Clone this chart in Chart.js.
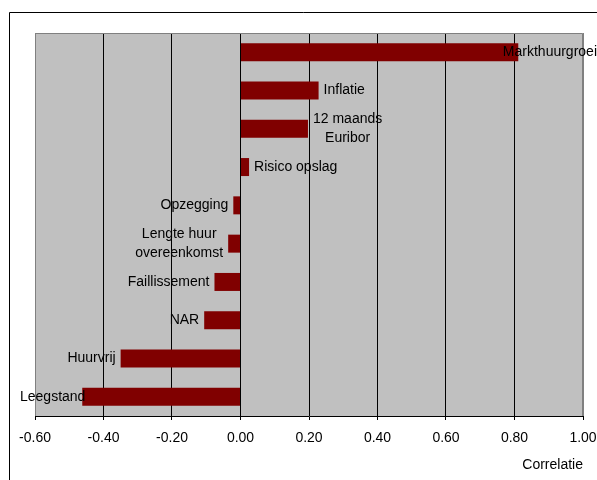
<!DOCTYPE html>
<html>
<head>
<meta charset="utf-8">
<script src="https://cdn.jsdelivr.net/npm/chart.js@4"></script>
<style>
  html, body { margin: 0; padding: 0; background: #ffffff; }
  #wrap { width: 597px; height: 480px; position: relative; }
</style>
</head>
<body>
<div id="wrap"><canvas id="c" width="597" height="480"></canvas></div>
<script>
// Correlation of each factor with the outcome
const categories = [
  'Markthuurgroei',
  'Inflatie',
  ['12 maands', 'Euribor'],
  'Risico opslag',
  'Opzegging',
  ['Lengte huur', 'overeenkomst'],
  'Faillissement',
  'NAR',
  'Huurvrij',
  'Leegstand'
];
const correlations = [0.811, 0.228, 0.197, 0.025, -0.021, -0.036, -0.076, -0.106, -0.35, -0.462];
const axisMin = -0.6;
const axisMax = 1.0;
const axisStep = 0.2;
const axisTitle = 'Correlatie';

const FONT = "'Liberation Sans', Arial, sans-serif";

// Grey plot area, outer frame and the plot's top border
const backdrop = {
  id: 'backdrop',
  beforeDraw(chart) {
    const { ctx, chartArea: a } = chart;
    ctx.save();
    ctx.fillStyle = '#ffffff';
    ctx.fillRect(0, 0, chart.width, chart.height);
    ctx.fillStyle = '#c0c0c0';
    ctx.fillRect(a.left, a.top, a.right - a.left, a.bottom - a.top);
    ctx.strokeStyle = '#000000';
    ctx.lineWidth = 1;
    ctx.beginPath();
    ctx.moveTo(9.5, chart.height + 5);
    ctx.lineTo(9.5, 12.5);
    ctx.lineTo(chart.width + 5, 12.5);
    ctx.stroke();
    ctx.restore();
  },
  beforeDatasetsDraw(chart) {
    const { ctx, chartArea: a } = chart;
    ctx.save();
    ctx.strokeStyle = '#808080';
    ctx.lineWidth = 1;
    ctx.beginPath();
    ctx.moveTo(Math.round(a.left) + 0.5, Math.round(a.bottom));
    ctx.lineTo(Math.round(a.left) + 0.5, Math.round(a.top) + 0.5);
    ctx.lineTo(Math.round(a.right) - 0.5, Math.round(a.top) + 0.5);
    ctx.lineTo(Math.round(a.right) - 0.5, Math.round(a.bottom));
    ctx.stroke();
    ctx.restore();
  }
};

// Category names written beside the end of each bar
const barNames = {
  id: 'barNames',
  afterDatasetsDraw(chart) {
    const { ctx } = chart;
    const meta = chart.getDatasetMeta(0);
    const gap = 5;
    const lineH = 19;
    ctx.save();
    ctx.font = '14px ' + FONT;
    ctx.fillStyle = '#000000';
    ctx.textBaseline = 'middle';
    meta.data.forEach((bar, i) => {
      const lines = [].concat(categories[i]);
      const w = Math.max(...lines.map(s => ctx.measureText(s).width));
      const v = correlations[i];
      let left;
      if (v >= 0) {
        left = Math.min(bar.x + gap, chart.width - w);
      } else {
        left = Math.max(bar.x - gap - w, 20);
      }
      const cx = left + w / 2;
      ctx.textAlign = 'center';
      const y0 = bar.y - (lines.length - 1) * lineH / 2;
      lines.forEach((s, k) => ctx.fillText(s, cx, y0 + k * lineH));
    });
    ctx.restore();
  }
};

const edge = v => Math.abs(v - axisMin) < 1e-9 || Math.abs(v - axisMax) < 1e-9;

new Chart(document.getElementById('c'), {
  type: 'bar',
  data: {
    labels: categories,
    datasets: [{
      data: correlations,
      backgroundColor: '#800000',
      borderWidth: 0,
      barPercentage: 0.47,
      categoryPercentage: 1.0
    }]
  },
  options: {
    indexAxis: 'y',
    responsive: false,
    animation: false,
    events: [],
    layout: { padding: { left: 35, top: 33, right: 0, bottom: 0 } },
    plugins: {
      legend: { display: false },
      tooltip: { enabled: false }
    },
    scales: {
      y: { display: false },
      x: {
        min: axisMin,
        max: axisMax,
        afterFit(scale) { scale.height = 64; scale.paddingRight = 14; scale.paddingLeft = 0; },
        ticks: {
          stepSize: axisStep,
          color: '#000000',
          font: { family: FONT, size: 14 },
          padding: 10,
          maxRotation: 0,
          callback: v => Number(v).toFixed(2)
        },
        grid: {
          color: ctx => (ctx.tick && edge(ctx.tick.value)) ? '#808080' : '#000000',
          tickColor: '#000000',
          tickLength: 4,
          lineWidth: 1
        },
        border: { display: true, color: '#000000', width: 1 },
        title: {
          display: true,
          text: axisTitle,
          align: 'end',
          color: '#000000',
          font: { family: FONT, size: 14 },
          padding: { top: 0, bottom: 6 }
        }
      }
    }
  },
  plugins: [backdrop, barNames]
});
</script>
</body>
</html>
